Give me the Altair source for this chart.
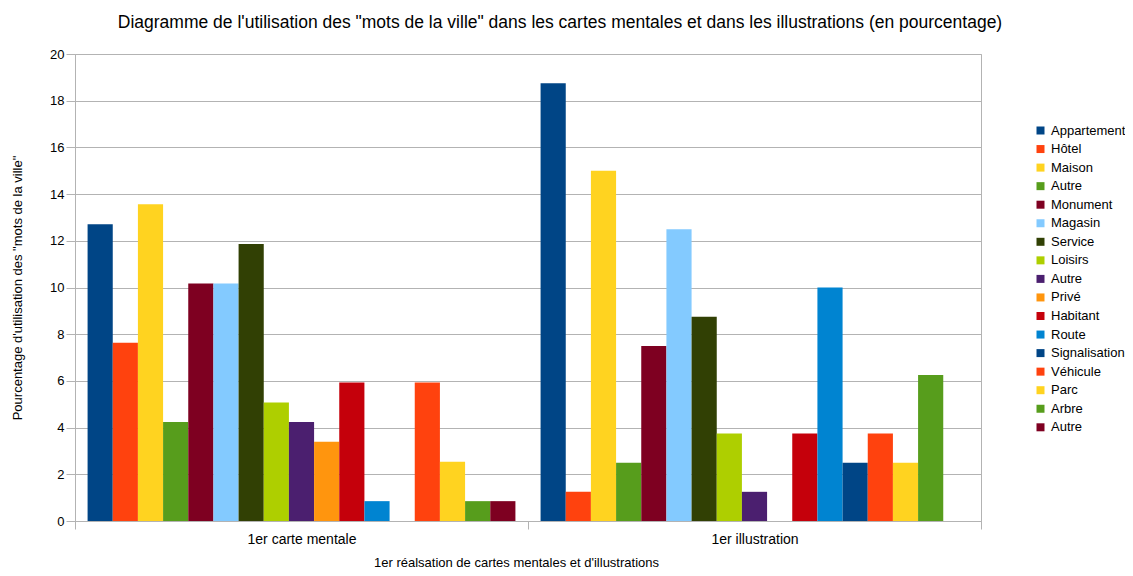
import altair as alt
import pandas as pd

groups = ["1er carte mentale", "1er illustration"]
series = ["Appartement", "Hôtel", "Maison", "Autre", "Monument", "Magasin", "Service",
          "Loisirs", "Autre", "Privé", "Habitant", "Route", "Signalisation", "Véhicule",
          "Parc", "Arbre", "Autre"]
colors = ["#004586", "#ff420e", "#ffd320", "#579d1c", "#7e0021", "#83caff", "#314004",
          "#aecf00", "#4b1f6f", "#ff950e", "#c5000b", "#0084d1", "#004586", "#ff420e",
          "#ffd320", "#579d1c", "#7e0021"]
carte = [12.71, 7.63, 13.56, 4.24, 10.17, 10.17, 11.86, 5.08, 4.24, 3.39, 5.93, 0.85,
         0.0, 5.93, 2.54, 0.85, 0.85]
illus = [18.75, 1.25, 15.0, 2.5, 7.5, 12.5, 8.75, 3.75, 1.25, 0.0, 3.75, 10.0,
         2.5, 3.75, 2.5, 6.25, 0.0]
y_ticks = [0, 2, 4, 6, 8, 10, 12, 14, 16, 18, 20]

keys = [f"{i:02d} {s}" for i, s in enumerate(series)]
rows = []
for g, vals in zip(groups, [carte, illus]):
    for k, v in zip(keys, vals):
        rows.append({"group": g, "key": k, "value": v})
df = pd.DataFrame(rows)

FONT = "Liberation Sans"
GRID = "#b3b3b3"

chart = alt.Chart(df).mark_bar().encode(
    x=alt.X("group:N", sort=groups,
            scale=alt.Scale(paddingInner=0, paddingOuter=0),
            axis=alt.Axis(title="1er réalsation de cartes mentales et d'illustrations",
                          labelAngle=0, tickBand="extent", domainColor=GRID,
                          tickColor=GRID, tickSize=8, labelFontSize=14,
                          labelPadding=3, titleFontSize=13, titleFontWeight="normal",
                          titlePadding=10, titleX=441, labelColor="black",
                          titleColor="black")),
    xOffset=alt.XOffset("key:N", sort=keys,
                        scale=alt.Scale(paddingInner=0, paddingOuter=0.5)),
    y=alt.Y("value:Q", scale=alt.Scale(domain=[0, 20]),
            axis=alt.Axis(title="Pourcentage d'utilisation des \"mots de la ville\"",
                          values=y_ticks, grid=True, gridColor=GRID, domainColor=GRID,
                          tickColor=GRID, tickSize=9, labelFontSize=13, labelPadding=2,
                          titleFontSize=13, titleFontWeight="normal", titlePadding=25,
                          labelColor="black", titleColor="black")),
    color=alt.Color("key:N", sort=keys,
                    scale=alt.Scale(domain=keys, range=colors),
                    legend=alt.Legend(title=None, orient="none", legendX=959, legendY=70,
                                      symbolType="square", symbolSize=64,
                                      symbolStrokeWidth=0, labelFontSize=13,
                                      labelExpr="substring(datum.label, 3)",
                                      rowPadding=4.55, labelOffset=4,
                                      labelColor="black")),
).properties(
    width=906, height=467,
    title=alt.TitleParams(
        "Diagramme de l'utilisation des \"mots de la ville\" dans les cartes mentales et dans les illustrations (en pourcentage)",
        fontSize=17.5, font=FONT, fontWeight="normal", anchor="middle", frame="group",
        dx=32, offset=17, color="black"),
    autosize=alt.AutoSizeParams(type="none"),
    padding={"left": 67, "top": 46, "right": 144, "bottom": 47},
).configure(font=FONT).configure_view(stroke=GRID)

chart.save("out.html", embed_options={"renderer": "svg", "actions": False})
